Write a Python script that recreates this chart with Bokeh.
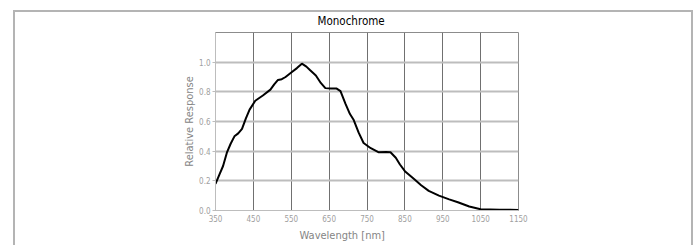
from bokeh.plotting import figure
from bokeh.models import FixedTicker, Range1d, Title, CustomJSTickFormatter
from bokeh.embed import file_html
from bokeh.resources import INLINE

# ---- data ----
wavelength = [350, 360, 370, 380, 390, 400, 410, 420, 430, 440, 455, 475,
              495, 505, 515, 525, 535, 550, 565, 578, 590, 600, 615, 628,
              640, 655, 670, 680, 693, 705, 715, 728, 741, 760, 780, 800,
              812, 826, 837, 850, 875, 893, 913, 940, 967, 990, 1020, 1050,
              1100, 1150]
response = [0.18, 0.24, 0.30, 0.39, 0.45, 0.50, 0.52, 0.55, 0.62, 0.68,
            0.74, 0.775, 0.815, 0.85, 0.88, 0.885, 0.90, 0.93, 0.96, 0.99,
            0.97, 0.945, 0.91, 0.86, 0.825, 0.822, 0.822, 0.805, 0.72, 0.65,
            0.61, 0.525, 0.455, 0.42, 0.393, 0.395, 0.393, 0.356, 0.31,
            0.265, 0.21, 0.17, 0.132, 0.10, 0.075, 0.056, 0.027, 0.008,
            0.005, 0.004]
x_ticks = [350, 450, 550, 650, 750, 850, 950, 1050, 1150]
y_ticks = [0.0, 0.2, 0.4, 0.6, 0.8, 1.0]
title_text = "Monochrome"
x_label = "Wavelength [nm]"
y_label = "Relative Response"

FONT = "DejaVu Sans Condensed"
FRAME = "#b4b4b4"

W, H = 698, 245
p = figure(width=W, height=H, output_backend="svg", toolbar_location=None,
           x_range=Range1d(350, 1150), y_range=Range1d(0, 1.2),
           min_border_left=215, min_border_right=W - 518,
           min_border_top=32, min_border_bottom=H - 210)
p.background_fill_color = "white"
p.border_fill_color = None
p.outline_line_color = "#8c8c8c"
p.outline_line_width = 1
p.styles = {
    "background-color": "white",
    "background-image": ", ".join([f"linear-gradient({FRAME},{FRAME})"] * 3),
    "background-size": "2px 100%, 680px 2px, 2px 100%",
    "background-position": "13px 10px, 13px 10px, 691px 10px",
    "background-repeat": "no-repeat",
}

# grids
p.xgrid.ticker = FixedTicker(ticks=x_ticks)
p.ygrid.ticker = FixedTicker(ticks=y_ticks)
p.xgrid.grid_line_color = "#707070"
p.xgrid.grid_line_width = 1
p.ygrid.grid_line_color = "#bdbdbd"
p.ygrid.grid_line_width = 2

# axes
p.xaxis.ticker = FixedTicker(ticks=x_ticks)
p.yaxis.ticker = FixedTicker(ticks=y_ticks)
p.yaxis.formatter = CustomJSTickFormatter(code="return tick.toFixed(1);")
for ax in (p.xaxis, p.yaxis):
    ax.axis_line_color = "#bdbdbd"
    ax.major_tick_line_color = "#bdbdbd"
    ax.minor_tick_line_color = None
    ax.major_label_text_color = "#a0a0a0"
    ax.major_label_text_font = FONT
    ax.major_label_text_font_size = "8px"
p.xaxis.major_tick_in = 0
p.xaxis.major_tick_out = 0
p.xaxis.major_label_standoff = 4
p.yaxis.major_tick_in = 0
p.yaxis.major_tick_out = 3
p.yaxis.major_label_standoff = 2
p.yaxis.axis_label = y_label
p.yaxis.axis_label_text_font = FONT
p.yaxis.axis_label_text_font_size = "11px"
p.yaxis.axis_label_text_font_style = "normal"
p.yaxis.axis_label_text_color = "#858585"
p.yaxis.axis_label_standoff = 0

# curve
p.line(wavelength, response, line_color="black", line_width=2)

# title and x label
p.title.text = title_text
p.title.align = "left"
p.title.offset = 102
p.title.text_font = FONT
p.title.text_font_size = "11.5px"
p.title.text_font_style = "normal"
p.title.text_color = "black"
p.title.standoff = 9

p.add_layout(Title(text=x_label, align="left", offset=84, text_font=FONT,
                   text_font_size="11px", text_font_style="normal",
                   text_color="#858585", standoff=4), "below")

open("out.html", "w").write(file_html(p, INLINE))
